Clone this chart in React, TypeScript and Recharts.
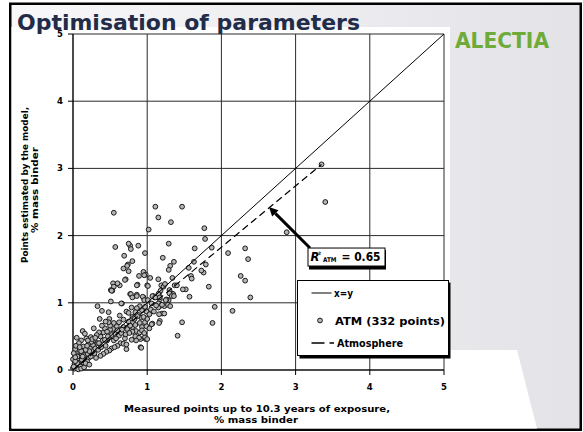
import React from "react";
import {
  ScatterChart,
  Scatter,
  XAxis,
  YAxis,
  CartesianGrid,
  ReferenceLine,
  ReferenceDot,
  Legend,
} from "recharts";

const FONT = "'DejaVu Sans', Verdana, sans-serif";

// [measured, estimated] in % mass binder
const atmPoints: [number, number][] = [
  // upper / scattered
  [0.55, 2.34], [1.11, 2.43], [1.15, 2.27], [1.32, 2.2], [1.47, 2.43], [1.02, 2.09], [1.77, 2.11], [1.78, 1.95],
  [3.35, 3.06], [3.4, 2.5], [2.88, 2.05],
  [2.32, 1.81], [2.36, 1.65], [2.09, 1.74], [2.26, 1.4], [2.32, 1.33], [2.39, 1.08], [2.15, 0.88], [1.91, 0.94],
  [1.88, 0.7], [1.83, 1.24], [1.87, 1.82], [1.79, 1.57], [1.76, 1.45], [1.73, 1.48], [1.64, 1.81], [1.63, 1.61],
  [1.56, 1.52], [1.59, 1.4], [1.6, 1.36], [1.57, 1.09], [1.52, 1.2], [1.48, 1.2], [1.47, 0.71], [1.41, 0.51],
  [1.36, 1.61], [1.31, 1.55], [1.29, 1.49], [1.29, 1.88], [1.21, 1.67], [1.15, 1.35], [1.19, 1.26], [1.16, 1.14],
  [1.22, 1.24], [1.18, 1.18], [1.34, 1.37], [1.37, 1.26], [1.33, 1.14], [1.3, 1.19], [1.35, 1.13], [1.29, 1.04],
  [1.26, 1.05], [1.17, 1.05], [1.15, 0.99], [1.19, 0.96], [1.23, 0.95], [1.15, 0.93], [1.2, 0.84], [1.23, 0.84],
  [1.17, 0.73], [1.07, 0.69], [1.1, 1.08], [1.13, 1.09], [1.24, 1.28], [1.4, 1.26],
  [0.97, 1.74], [1.0, 1.26], [0.95, 1.46], [0.98, 1.42], [1.04, 1.37], [0.88, 1.85], [0.77, 1.85], [0.78, 1.8],
  [0.75, 1.88], [0.8, 1.62], [0.69, 1.7], [0.74, 1.57], [0.68, 1.51], [0.75, 1.47], [0.71, 1.35], [0.57, 1.83],
  [0.54, 1.29], [0.51, 1.19], [0.55, 1.24], [0.63, 1.26], [0.51, 1.02], [0.66, 0.99], [0.87, 1.27], [0.89, 1.4],
  [0.77, 1.13], [0.86, 1.26], [1.01, 1.25], [0.78, 1.13], [0.86, 1.12], [0.95, 1.08], [1.08, 1.1], [0.96, 1.41],
  [0.73, 1.55], [0.7, 1.34], [0.53, 1.18], [0.6, 1.29], [0.52, 1.18], [0.65, 0.99],
  [0.33, 0.95], [0.39, 0.88], [0.48, 0.86], [0.36, 0.76], [0.49, 0.76], [0.98, 0.46], [0.91, 0.34], [0.72, 0.31],
  [0.13, 0.58], [0.05, 0.48],
  // main cluster
  [0.8, 1.08], [0.86, 1.1], [0.94, 1.09], [0.96, 1.04], [1.01, 1.04], [1.07, 1.1], [1.11, 1.08], [1.15, 1.13],
  [1.17, 1.08], [1.25, 1.04], [1.3, 1.14], [1.33, 1.1], [1.28, 0.97], [1.2, 0.97], [1.16, 0.83], [1.06, 0.68],
  [0.9, 0.95], [0.86, 0.92], [0.88, 0.82], [0.8, 0.79], [0.72, 0.87], [0.75, 0.85], [0.63, 0.81], [0.68, 0.75],
  [0.75, 0.72], [0.81, 0.71], [0.9, 0.7], [0.97, 0.71], [1.0, 0.76], [0.93, 0.64], [0.85, 0.58], [0.9, 0.56],
  [0.91, 0.46], [0.97, 0.49], [1.0, 0.46], [0.92, 0.33], [0.84, 0.5], [0.8, 0.57], [0.8, 0.64], [0.73, 0.61],
  [0.68, 0.64], [0.62, 0.71], [0.59, 0.65], [0.54, 0.61], [0.5, 0.6], [0.52, 0.52], [0.57, 0.54], [0.62, 0.51],
  [0.64, 0.4], [0.68, 0.39], [0.72, 0.38], [0.7, 0.47], [0.52, 0.32], [0.49, 0.29], [0.45, 0.27], [0.41, 0.24],
  [0.37, 0.21], [0.31, 0.18], [0.29, 0.25], [0.44, 0.36], [0.46, 0.44], [0.4, 0.44], [0.37, 0.5], [0.41, 0.56],
  [0.35, 0.56], [0.32, 0.52], [0.28, 0.44], [0.27, 0.37], [0.23, 0.32], [0.21, 0.39], [0.18, 0.47], [0.16, 0.54],
  [0.24, 0.49], [0.25, 0.42], [0.11, 0.44], [0.08, 0.4], [0.14, 0.35], [0.18, 0.25], [0.12, 0.24], [0.08, 0.3],
  [0.03, 0.31], [0.05, 0.22], [0.1, 0.17], [0.16, 0.15], [0.21, 0.18], [0.07, 0.14], [0.02, 0.09], [0.08, 0.07],
  [0.13, 0.06], [0.05, 0.03], [0.0, 0.03], [0.0, 0.16], [0.01, 0.25], [0.09, 0.11], [0.14, 0.11], [0.19, 0.13],
  [0.79, 0.93], [0.84, 0.86], [0.93, 0.89], [0.99, 0.87], [0.92, 0.78], [0.97, 0.94], [1.06, 0.99], [1.12, 0.96],
  [1.31, 0.95], [1.36, 1.1], [1.16, 0.7], [0.99, 0.65], [0.93, 0.59], [0.89, 0.48], [0.85, 0.44], [0.79, 0.45],
  [0.6, 0.59], [0.55, 0.7], [0.5, 0.66], [0.48, 0.71], [0.43, 0.62], [0.46, 0.57],
  [0.02, 0.02], [0.04, 0.06], [0.06, 0.1], [0.03, 0.13], [0.1, 0.05], [0.12, 0.15], [0.06, 0.2], [0.15, 0.22],
  [0.2, 0.24], [0.24, 0.2], [0.26, 0.28], [0.22, 0.28], [0.17, 0.3], [0.11, 0.28], [0.04, 0.36], [0.09, 0.34],
  [0.19, 0.36], [0.3, 0.32], [0.34, 0.3], [0.33, 0.4], [0.38, 0.34], [0.26, 0.46], [0.3, 0.48], [0.2, 0.44],
  [0.01, 0.05], [0.07, 0.01], [0.11, 0.02], [0.15, 0.04], [0.03, 0.19], [0.13, 0.2], [0.17, 0.1], [0.22, 0.08],
  [0.43, 0.45], [0.47, 0.5], [0.55, 0.44], [0.58, 0.47], [0.6, 0.36], [0.56, 0.34], [0.65, 0.55], [0.66, 0.6],
  [0.71, 0.53], [0.76, 0.55], [0.77, 0.66], [0.83, 0.76], [0.87, 0.8], [0.84, 0.67], [0.95, 0.79], [1.03, 0.83],
  [1.05, 0.9], [1.09, 0.87], [1.03, 0.62], [0.96, 0.55], [0.35, 0.4], [0.39, 0.66], [0.44, 0.72], [0.28, 0.62],
];

const diagonalX = [0, 5];
const diagonalY = [0, 5];
const atmFitX = [0, 3.35];
const atmFitY = [0, 3.06];
const axisTicks = [0, 1, 2, 3, 4, 5];

const rSquared = "0.65";
const pointCount = 332;
const title = "Optimisation of parameters";
const xTitle = ["Measured points up to 10.3 years of exposure,", "% mass binder"];
const yTitle = ["Points estimated by the model,", "% mass binder"];

const pointData = atmPoints.map(([x, y]) => ({ x, y }));
const diagonalData = diagonalX.map((x, i) => ({ x, y: diagonalY[i] }));
const fitData = atmFitX.map((x, i) => ({ x, y: atmFitY[i] }));

const Dot = (props: any) => {
  const { cx, cy } = props;
  if (cx == null || cy == null) return <g />;
  return <circle cx={cx} cy={cy} r={2.4} fill="#b5b5b5" stroke="#1a1a1a" strokeWidth={1} />;
};

const NoDot = () => <g />;

const Arrow = (props: any) => {
  const { x1, y1, x2, y2 } = props;
  const a = Math.atan2(y2 - y1, x2 - x1);
  const len = 9;
  const w = 4.5;
  const bx = x2 - len * Math.cos(a);
  const by = y2 - len * Math.sin(a);
  const pts = [
    [x2, y2],
    [bx + w * Math.sin(a), by - w * Math.cos(a)],
    [bx - w * Math.sin(a), by + w * Math.cos(a)],
  ]
    .map((p) => p.join(","))
    .join(" ");
  return (
    <g>
      <line x1={x1} y1={y1} x2={bx} y2={by} stroke="#000" strokeWidth={3} />
      <polygon points={pts} fill="#000" />
    </g>
  );
};

// annotation box, anchored on the arrow's tail
const RBox = (props: any) => {
  const { cx, cy } = props;
  if (cx == null || cy == null) return <g />;
  const left = cx - 2;
  return (
    <g fontFamily={FONT} fontWeight="bold" fill="#000">
      <rect x={left + 1} y={cy + 2} width={77} height={19.5} fill="#000" />
      <rect x={left} y={cy} width={77} height={18} fill="#fff" stroke="#000" strokeWidth={1} />
      <text x={left + 2.5} y={cy + 13} fontSize={11.5} fontStyle="italic">R</text>
      <text x={left + 10} y={cy + 8.5} fontSize={7}>²</text>
      <text x={left + 15} y={cy + 13.5} fontSize={6.5} textLength={13.5} lengthAdjust="spacingAndGlyphs">ATM</text>
      <text x={left + 33.5} y={cy + 13} fontSize={11.5} textLength={39} lengthAdjust="spacingAndGlyphs">
        {`= ${rSquared}`}
      </text>
    </g>
  );
};

const LegendBox = () => (
  <svg width={156} height={80} style={{ display: "block" }} fontFamily={FONT} fontWeight="bold">
    <rect x={2.5} y={2.5} width={151} height={76} fill="#000" />
    <rect x={0.5} y={0.5} width={151} height={75} fill="#fff" stroke="#000" />
    <line x1={14.5} x2={34.5} y1={13} y2={13} stroke="#000" strokeWidth={1} />
    <text x={37} y={16.5} fontSize={10} textLength={19} lengthAdjust="spacingAndGlyphs">x=y</text>
    <circle cx={23} cy={40.5} r={2.4} fill="#b5b5b5" stroke="#1a1a1a" strokeWidth={1} />
    <text x={38} y={44.5} fontSize={10.5} textLength={110} lengthAdjust="spacingAndGlyphs">
      {`ATM (${pointCount} points)`}
    </text>
    <line x1={14.5} x2={37} y1={63} y2={63} stroke="#000" strokeWidth={1.5} strokeDasharray="13 5" />
    <text x={40} y={66.5} fontSize={10} textLength={66} lengthAdjust="spacingAndGlyphs">Atmosphere</text>
  </svg>
);

const tickStyle = { fill: "#000", fontSize: 8.5, fontWeight: "bold", fontFamily: FONT };

export default function App() {
  return (
    <div style={{ position: "absolute", left: 0, top: 0, width: 583, height: 432, fontFamily: FONT }}>
      <svg width={583} height={432} style={{ position: "absolute", left: 0, top: 0 }}>
        <defs>
          <linearGradient id="slideBg" x1="0" y1="0" x2="1" y2="0">
            <stop offset="0%" stopColor="#f8f8fa" />
            <stop offset="100%" stopColor="#e3e3e7" />
          </linearGradient>
        </defs>
        <rect x={10.25} y={3.75} width={570.5} height={426} fill="url(#slideBg)" stroke="#000" strokeWidth={2.5} />
        <polygon points="450,350 517,350 537,428.5 450,428.5" fill="#fff" />
        <rect x={11.5} y={27} width={438.5} height={401.5} fill="#fff" />
        <text x={17} y={29.5} fontSize={22} fontWeight="bold" fill="#222c49" textLength={343} lengthAdjust="spacingAndGlyphs">
          {title}
        </text>
        <text x={455} y={48} fontSize={22} fontWeight="900" fill="#6fab38" textLength={94} lengthAdjust="spacingAndGlyphs">
          ALECTIA
        </text>
        <g fontWeight="bold" fill="#000" textAnchor="middle">
          <text x={257} y={412} fontSize={8.5} textLength={266} lengthAdjust="spacingAndGlyphs">{xTitle[0]}</text>
          <text x={256} y={423} fontSize={8.5} textLength={84} lengthAdjust="spacingAndGlyphs">{xTitle[1]}</text>
          <text transform="translate(28,185) rotate(-90)" fontSize={8.5} textLength={156} lengthAdjust="spacingAndGlyphs">
            {yTitle[0]}
          </text>
          <text transform="translate(38,190) rotate(-90)" fontSize={8.5} textLength={86} lengthAdjust="spacingAndGlyphs">
            {yTitle[1]}
          </text>
        </g>
      </svg>
      <div style={{ position: "absolute", left: 0, top: 0 }}>
        <ScatterChart width={583} height={432} margin={{ top: 34, right: 139, bottom: 32, left: 43 }}>
          <CartesianGrid stroke="#2a2a2a" strokeWidth={1} />
          <XAxis
            type="number"
            dataKey="x"
            domain={[0, 5]}
            ticks={axisTicks}
            interval={0}
            height={30}
            tickSize={5}
            tickMargin={9}
            tick={tickStyle}
            axisLine={{ stroke: "#000" }}
            tickLine={{ stroke: "#000" }}
          />
          <YAxis
            type="number"
            dataKey="y"
            domain={[0, 5]}
            ticks={axisTicks}
            interval={0}
            width={30}
            tickSize={5}
            tickMargin={5}
            tick={tickStyle}
            axisLine={{ stroke: "#000" }}
            tickLine={{ stroke: "#000" }}
          />
          <Scatter name="ATM" data={pointData} shape={Dot} isAnimationActive={false} />
          <Scatter
            name="x=y"
            data={diagonalData}
            line={{ stroke: "#000", strokeWidth: 1 }}
            shape={NoDot}
            isAnimationActive={false}
          />
          <Scatter
            name="Atmosphere"
            data={fitData}
            line={{ stroke: "#000", strokeWidth: 1.2, strokeDasharray: "7 4" }}
            shape={NoDot}
            isAnimationActive={false}
          />
          <ReferenceLine
            segment={[
              { x: 3.194, y: 1.815 },
              { x: 2.641, y: 2.426 },
            ]}
            shape={Arrow}
          />
          <ReferenceDot x={3.194} y={1.815} shape={RBox} />
          <Legend
            layout="vertical"
            align="center"
            verticalAlign="middle"
            content={LegendBox}
            wrapperStyle={{ left: 297, top: 280, width: 156, height: 80 }}
          />
        </ScatterChart>
      </div>
    </div>
  );
}
